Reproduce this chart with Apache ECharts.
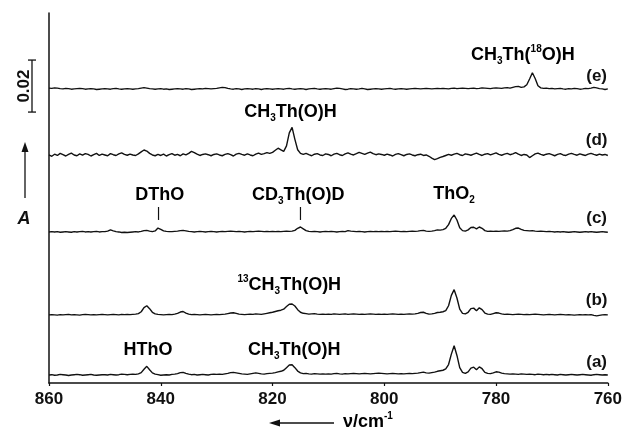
<!DOCTYPE html>
<html>
<head>
<meta charset="utf-8">
<style>
  html, body { margin: 0; padding: 0; background: #fff; }
  #main { width: 625px; height: 431px; }
</style>
</head>
<body>
<div id="main"></div>
<script src="https://cdn.jsdelivr.net/npm/echarts/dist/echarts.min.js"></script>
<script>
// wavenumber sampling of the spectra: 860 -> 760 cm-1 every 0.5 cm-1
var waveStart = 860;
var waveStep = -0.5;
var waveCount = 201;

// x axis ticks
var xTicks = [860, 840, 820, 800, 780, 760];

// trace names, bottom to top
var traceNames = ['(a)', '(b)', '(c)', '(d)', '(e)'];
// vertical offset of each trace (absorbance x 1000)
var traceOffsets = [3.1, 26.2, 58.1, 87.7, 113.1];

// absorbance x 1000, one row = 10 cm-1 (860..850.5, 850..840.5, ...), last value = 760
var traceA = [
  0.0, 0.1, -0.1, 0.0, 0.2, 0.1, 0.0, -0.2, 0.0, 0.1, 0.2, 0.1, -0.1, 0.0, 0.1, 0.2, 0.0, -0.1, 0.0, 0.1,
  0.1, 0.0, 0.2, 0.1, 0.0, 0.1, 0.3, 0.2, 0.1, 0.2, 0.3, 0.2, 0.4, 0.9, 2.2, 3.3, 2.0, 0.8, 0.3, 0.1,
  -0.1, 0.0, 0.1, 0.0, 0.2, 0.3, 0.5, 0.9, 1.0, 0.6, 0.3, 0.1, 0.2, 0.0, 0.1, 0.2, 0.1, 0.0, 0.2, 0.3,
  0.2, 0.3, 0.2, 0.4, 0.6, 0.9, 1.0, 0.8, 0.6, 0.4, 0.3, 0.2, 0.4, 0.6, 0.8, 0.6, 0.4, 0.3, 0.5, 0.6,
  0.7, 0.9, 1.2, 1.4, 1.8, 2.8, 3.8, 3.9, 2.8, 1.5, 0.8, 0.5, 0.6, 0.4, 0.3, 0.5, 0.4, 0.3, 0.4, 0.3,
  0.4, 0.3, 0.5, 0.6, 0.4, 0.3, 0.5, 0.4, 0.5, 0.6, 0.5, 0.4, 0.5, 0.6, 0.5, 0.4, 0.5, 0.6, 0.7, 0.6,
  0.5, 0.4, 0.5, 0.6, 0.5, 0.4, 0.5, 0.4, 0.5, 0.6, 0.5, 0.6, 0.7, 0.9, 1.1, 0.8, 0.7, 0.9, 1.1, 1.4,
  1.6, 1.8, 2.3, 4.0, 8.0, 11.2, 7.5, 2.8, 1.0, 0.6, 1.2, 2.6, 3.0, 2.0, 3.1, 2.4, 1.0, 0.6, 0.5, 0.8,
  1.2, 1.1, 0.7, 0.5, 0.4, 0.3, 0.4, 0.3, 0.2, 0.4, 0.3, 0.2, 0.3, 0.2, 0.1, 0.3, 0.2, 0.1, 0.2, 0.1,
  0.2, 0.1, 0.0, 0.2, 0.1, 0.0, 0.1, 0.2, 0.1, 0.0, 0.1, 0.2, 0.1, 0.0, -0.1, 0.1, 0.2, 0.1, 0.0, 0.1,
  0.0
];
var traceB = [
  0.0, 0.1, 0.0, -0.1, 0.1, 0.0, 0.1, 0.2, 0.0, 0.1, 0.0, -0.1, 0.1, 0.2, 0.1, 0.0, 0.1, 0.0, 0.1, 0.2,
  0.1, 0.0, 0.1, 0.2, 0.1, 0.0, 0.2, 0.1, 0.2, 0.1, 0.2, 0.3, 0.5, 1.2, 2.8, 3.5, 2.4, 1.0, 0.4, 0.2,
  0.1, 0.0, 0.1, 0.2, 0.1, 0.3, 0.6, 1.1, 1.3, 0.7, 0.3, 0.1, 0.2, 0.1, 0.0, 0.1, 0.2, 0.1, 0.0, 0.1,
  0.2, 0.1, 0.2, 0.3, 0.5, 0.7, 0.8, 0.6, 0.3, 0.2, 0.1, 0.2, 0.3, 0.2, 0.4, 0.3, 0.2, 0.4, 0.6, 0.8,
  1.0, 1.3, 1.6, 1.8, 2.2, 3.2, 4.1, 4.2, 3.4, 2.0, 1.0, 0.6, 0.5, 0.3, 0.4, 0.5, 0.3, 0.2, 0.3, 0.2,
  0.3, 0.2, 0.4, 0.3, 0.2, 0.3, 0.4, 0.2, 0.3, 0.4, 0.3, 0.2, 0.3, 0.2, 0.3, 0.4, 0.3, 0.2, 0.3, 0.2,
  0.3, 0.2, 0.3, 0.4, 0.3, 0.2, 0.3, 0.2, 0.3, 0.4, 0.3, 0.4, 0.6, 0.9, 1.0, 0.6, 0.3, 0.4, 0.6, 0.9,
  1.0, 1.2, 1.6, 3.5, 7.5, 9.7, 6.5, 2.2, 0.6, 0.4, 1.0, 2.4, 2.6, 1.6, 2.7, 2.0, 0.7, 0.3, 0.2, 0.5,
  0.8, 0.7, 0.4, 0.2, 0.3, 0.2, 0.1, 0.2, 0.3, 0.2, 0.1, 0.2, 0.1, 0.2, 0.3, 0.2, 0.1, 0.0, 0.1, 0.2,
  0.1, 0.0, 0.1, 0.2, 0.1, 0.0, 0.1, 0.0, -0.1, 0.0, 0.1, 0.0, 0.1, 0.0, 0.1, -0.2, -0.4, -0.2, 0.0, 0.1,
  0.0
];
var traceC = [
  0.0, 0.1, 0.0, 0.1, -0.1, 0.0, 0.1, 0.0, -0.1, 0.1, 0.0, 0.1, 0.2, 0.0, 0.1, 0.0, 0.1, 0.2, 0.0, 0.1,
  0.1, 0.3, 0.8, 0.4, 0.1, 0.0, -0.2, -0.1, -0.2, -0.1, 0.0, 0.1, 0.0, 0.2, 0.5, 0.6, 0.3, 0.1, 0.4, 1.5,
  1.0, 0.4, 0.2, 0.1, 0.1, 0.2, 0.3, 0.5, 0.6, 0.4, 0.2, 0.1, 0.0, 0.1, 0.2, 0.1, 0.0, 0.1, 0.2, 0.1,
  0.0, 0.1, 0.2, 0.1, 0.2, 0.3, 0.2, 0.1, 0.2, 0.1, 0.0, 0.1, 0.2, 0.1, 0.2, 0.3, 0.2, 0.1, 0.2, 0.1,
  0.2, 0.1, 0.2, 0.1, 0.2, 0.3, 0.2, 0.3, 0.6, 1.4, 1.9, 1.2, 0.5, 0.2, 0.1, 0.2, 0.1, 0.0, 0.1, 0.2,
  0.1, 0.2, 0.1, 0.0, 0.1, 0.2, 0.1, 0.5, 0.3, 0.2, 0.1, 0.2, 0.1, 0.0, 0.1, 0.2, 0.1, 0.2, 0.1, 0.2,
  0.1, 0.2, 0.1, 0.2, 0.3, 0.2, 0.1, 0.2, 0.1, 0.2, 0.3, 0.2, 0.3, 0.5, 0.6, 0.3, 0.2, 0.3, 0.5, 0.8,
  0.7, 0.9, 1.4, 2.8, 5.2, 6.5, 4.6, 1.6, 0.5, 0.3, 0.8, 1.7, 1.8, 1.2, 1.9, 1.4, 0.5, 0.2, 0.3, 0.2,
  0.3, 0.2, 0.3, 0.4, 0.3, 0.5, 0.9, 1.4, 1.5, 1.0, 0.6, 0.5, 0.4, 0.5, 0.3, 0.2, 0.3, 0.2, 0.1, 0.2,
  0.1, 0.0, 0.1, 0.0, 0.1, 0.0, -0.1, 0.0, 0.1, 0.0, -0.1, 0.0, 0.1, 0.0, 0.1, 0.0, -0.1, 0.0, 0.1, 0.0,
  -0.1
];
var traceD = [
  0.0, -0.5, 0.3, -0.2, 0.6, 0.1, -0.4, 0.2, 0.7, 0.0, -0.3, 0.4, -0.1, 0.5, 0.2, -0.4, 0.1, 0.6, -0.2, 0.3,
  0.0, -0.3, 0.5, 0.1, -0.2, 0.4, 0.8, 0.2, -0.1, 0.3, 0.0, -0.2, 0.4, 1.2, 1.9, 1.5, 0.6, 0.0, -0.3, 0.2,
  -0.2, 0.3, -0.4, 0.1, 0.5, -0.1, 0.2, -0.3, 0.4, 0.0, 0.6, 1.4, 0.9, 0.3, -0.2, 0.2, 0.4, 0.1, -0.3, 0.2,
  0.4, 0.0, -0.3, 0.2, 0.5, 0.1, -0.4, 0.3, 0.6, 0.2, -0.1, 0.4, 0.0, -0.3, 0.3, 0.7, 0.2, 0.5, 0.9, 0.6,
  1.0, 1.8, 2.6, 2.0, 1.4, 3.5, 8.5, 10.6, 6.0, 2.0, 0.6, 0.2, 0.6, 0.1, -0.3, 0.3, 0.5, 0.0, -0.2, 0.4,
  0.2, -0.3, 0.3, 0.6, 0.1, -0.2, 0.4, 0.8, 0.3, 0.0, 0.5, 1.0, 0.6, 0.2, 0.7, 1.1, 0.5, 0.1, 0.4, 0.2,
  -0.1, 0.3, 0.0, -0.4, 0.2, 0.5, 0.1, -0.3, 0.2, 0.4, 0.0, -0.3, 0.1, 0.3, -0.2, 0.0, -0.5, -1.2, -1.8, -1.4,
  -0.9, -0.6, -0.2, 0.2, -0.1, 0.3, 0.6, 0.1, -0.2, 0.4, 0.2, -0.1, 0.3, 0.7, 0.2, -0.2, 0.3, 0.5, 0.0, 0.4,
  0.8, 0.2, -0.1, 0.3, 0.6, 0.1, 0.4, 0.9, 0.3, -0.2, 0.2, 0.0, -1.0, -0.3, 0.4, 0.7, 0.2, -0.1, 0.3, 0.5,
  0.1, -0.3, 0.2, 0.5, 0.0, -0.2, 0.3, 0.6, 0.2, -0.1, 0.4, 0.1, -0.2, 0.3, 0.6, 0.2, -0.1, 0.3, 0.0, 0.2,
  -0.2
];
var traceE = [
  0.3, 0.2, 0.4, 0.3, 0.1, 0.0, 0.2, 0.1, -0.1, 0.0, 0.1, 0.2, 0.1, -0.1, 0.0, 0.1, 0.0, -0.2, -0.1, 0.0,
  0.1, 0.0, -0.1, 0.1, 0.2, 0.0, -0.1, 0.0, 0.1, 0.0, -0.1, 0.0, 0.1, 0.3, 0.5, 0.3, 0.1, 0.0, -0.1, 0.0,
  0.1, -0.1, 0.0, -0.2, -0.1, 0.0, 0.1, 0.0, -0.1, 0.1, 0.0, -0.2, -0.1, 0.0, 0.1, 0.0, 0.2, 0.1, 0.0, 0.1,
  0.2, 0.4, 0.6, 0.5, 0.2, 0.0, -0.1, 0.1, 0.0, -0.2, 0.0, 0.1, 0.0, -0.1, 0.1, 0.0, -0.2, 0.0, 0.1, 0.0,
  -0.1, 0.0, 0.1, 0.0, -0.1, 0.1, 0.2, 0.0, -0.1, 0.0, 0.1, 0.0, -0.2, 0.0, 0.1, 0.2, 0.0, -0.1, 0.0, 0.1,
  0.0, -0.1, 0.1, 0.3, 0.2, 0.0, -0.2, -0.1, 0.1, 0.0, -0.1, 0.0, 0.2, 0.0, -0.2, -0.1, 0.0, 0.1, 0.0, -0.1,
  0.0, 0.1, 0.2, 0.0, -0.1, 0.0, 0.1, 0.0, -0.1, 0.0, 0.1, 0.2, 0.1, 0.0, 0.1, 0.2, 0.1, 0.0, 0.1, 0.2,
  0.1, 0.2, 0.1, 0.0, 0.2, 0.3, 0.1, 0.2, 0.3, 0.2, 0.1, 0.2, 0.3, 0.1, 0.2, 0.4, 0.3, 0.2, 0.1, 0.3,
  0.4, 0.3, 0.2, 0.4, 0.5, 0.3, 0.6, 0.9, 1.0, 0.6, 0.8, 1.6, 3.8, 6.2, 4.0, 1.2, 0.4, 0.2, 0.3, 0.1,
  0.2, 0.0, 0.1, 0.2, 0.0, -0.1, 0.1, 0.0, 0.2, 0.1, -0.1, 0.0, 0.2, 0.1, 0.3, 0.6, 0.4, 0.1, 0.0, -0.2,
  0.0
];
var traces = [traceA, traceB, traceC, traceD, traceE];

// peak labels: rich text, anchor (cm-1, absorbance x 1000)
var peakLabels = [
  { text: '{n|CH}{s|3}{n|Th(}{u|18}{n|O)H}', wn: 775.2, a: 126.2 },
  { text: '{n|CH}{s|3}{n|Th(O)H}', wn: 816.8, a: 104.2 },
  { text: '{n|DThO}', wn: 840.2, a: 72.3 },
  { text: '{n|CD}{s|3}{n|Th(O)D}', wn: 815.4, a: 72.3 },
  { text: '{n|ThO}{s|2}', wn: 787.5, a: 72.6 },
  { text: '{u|13}{n|CH}{s|3}{n|Th(O)H}', wn: 817.0, a: 37.7 },
  { text: '{n|HThO}', wn: 842.3, a: 12.7 },
  { text: '{n|CH}{s|3}{n|Th(O)H}', wn: 816.1, a: 12.7 }
];
var nameAnchors = [8.1, 31.9, 63.5, 93.5, 118.1];
var tickMarks = [840.4, 815.0];
var scaleBar = [104.2, 124.2];

var fontFamily = '"Liberation Sans", Arial, Helvetica, sans-serif';
var ink = '#111';

var myChart = echarts.init(document.getElementById('main'));

var series = traces.map(function (vals, k) {
  return {
    name: traceNames[k],
    type: 'line',
    showSymbol: false,
    silent: true,
    lineStyle: { color: ink, width: 1.4 },
    data: vals.map(function (v, i) {
      return [waveStart + waveStep * i, traceOffsets[k] + v];
    })
  };
});

myChart.setOption({
  animation: false,
  grid: { left: 49, right: 16, top: 13, bottom: 48 },
  xAxis: {
    type: 'value',
    inverse: true,
    min: xTicks[xTicks.length - 1],
    max: xTicks[0],
    interval: 20,
    splitLine: { show: false },
    axisLine: { lineStyle: { color: ink, width: 1.5 } },
    axisTick: { length: 3, lineStyle: { color: ink, width: 1.2 } },
    axisLabel: {
      color: ink, fontSize: 17, fontWeight: 'bold', fontFamily: fontFamily, margin: 8
    }
  },
  yAxis: {
    type: 'value',
    min: 0,
    max: 142.3,
    splitLine: { show: false },
    axisLine: { show: true, lineStyle: { color: ink, width: 1.5 } },
    axisTick: { show: false },
    axisLabel: { show: false }
  },
  series: series
});

function px(wn, a) {
  return myChart.convertToPixel({ xAxisIndex: 0, yAxisIndex: 0 }, [wn, a]);
}

var rich = {
  n: { fontSize: 18, fontWeight: 'bold', fontFamily: fontFamily, color: ink, lineHeight: 22 },
  s: { fontSize: 10, fontWeight: 'bold', fontFamily: fontFamily, color: ink, verticalAlign: 'bottom' },
  u: { fontSize: 10, fontWeight: 'bold', fontFamily: fontFamily, color: ink, verticalAlign: 'top' }
};

var graphics = [];

peakLabels.forEach(function (l) {
  var p = px(l.wn, l.a);
  graphics.push({
    type: 'text', x: p[0], y: p[1], silent: true,
    style: { text: l.text, rich: rich, align: 'center', verticalAlign: 'middle' }
  });
});

traceNames.forEach(function (nm, k) {
  var p = px(762.0, nameAnchors[k]);
  graphics.push({
    type: 'text', x: p[0], y: p[1], silent: true,
    style: { text: nm, fill: ink, font: 'bold 17px ' + fontFamily, align: 'center', verticalAlign: 'middle' }
  });
});

tickMarks.forEach(function (wn) {
  var p1 = px(wn, 67.7), p2 = px(wn, 62.7);
  graphics.push({
    type: 'line', silent: true,
    shape: { x1: p1[0], y1: p1[1], x2: p2[0], y2: p2[1] },
    style: { stroke: ink, lineWidth: 1.2 }
  });
});

// 0.02 scale bar
var sTop = px(860, scaleBar[1])[1], sBot = px(860, scaleBar[0])[1];
graphics.push(
  { type: 'line', silent: true, shape: { x1: 32, y1: sTop, x2: 32, y2: sBot }, style: { stroke: ink, lineWidth: 1.3 } },
  { type: 'line', silent: true, shape: { x1: 28, y1: sTop, x2: 36, y2: sTop }, style: { stroke: ink, lineWidth: 1.3 } },
  { type: 'line', silent: true, shape: { x1: 28, y1: sBot, x2: 36, y2: sBot }, style: { stroke: ink, lineWidth: 1.3 } },
  {
    type: 'text', x: 24, y: (sTop + sBot) / 2, rotation: Math.PI / 2, silent: true,
    style: { text: '0.02', fill: ink, font: 'bold 17px ' + fontFamily, align: 'center', verticalAlign: 'middle' }
  }
);

// absorbance arrow
graphics.push(
  { type: 'line', silent: true, shape: { x1: 25, y1: 198, x2: 25, y2: 150 }, style: { stroke: ink, lineWidth: 1.3 } },
  { type: 'polygon', silent: true, shape: { points: [[25, 142], [21.5, 152], [28.5, 152]] }, style: { fill: ink } },
  {
    type: 'text', x: 24, y: 219, silent: true,
    style: { text: 'A', fill: ink, font: 'italic bold 18px ' + fontFamily, align: 'center', verticalAlign: 'middle' }
  }
);

// wavenumber axis name with arrow
graphics.push(
  { type: 'line', silent: true, shape: { x1: 278, y1: 423, x2: 334, y2: 423 }, style: { stroke: ink, lineWidth: 1.3 } },
  { type: 'polygon', silent: true, shape: { points: [[269, 423], [280, 419.5], [280, 426.5]] }, style: { fill: ink } },
  {
    type: 'text', x: 343, y: 422, silent: true,
    style: {
      text: '{n|\u03bd/cm}{u|-1}', align: 'left', verticalAlign: 'middle',
      rich: {
        n: { fontSize: 18, fontWeight: 'bold', fontFamily: fontFamily, color: ink, lineHeight: 22 },
        u: { fontSize: 10, fontWeight: 'bold', fontFamily: fontFamily, color: ink, verticalAlign: 'top' }
      }
    }
  }
);

myChart.setOption({ graphic: graphics });
</script>
</body>
</html>
